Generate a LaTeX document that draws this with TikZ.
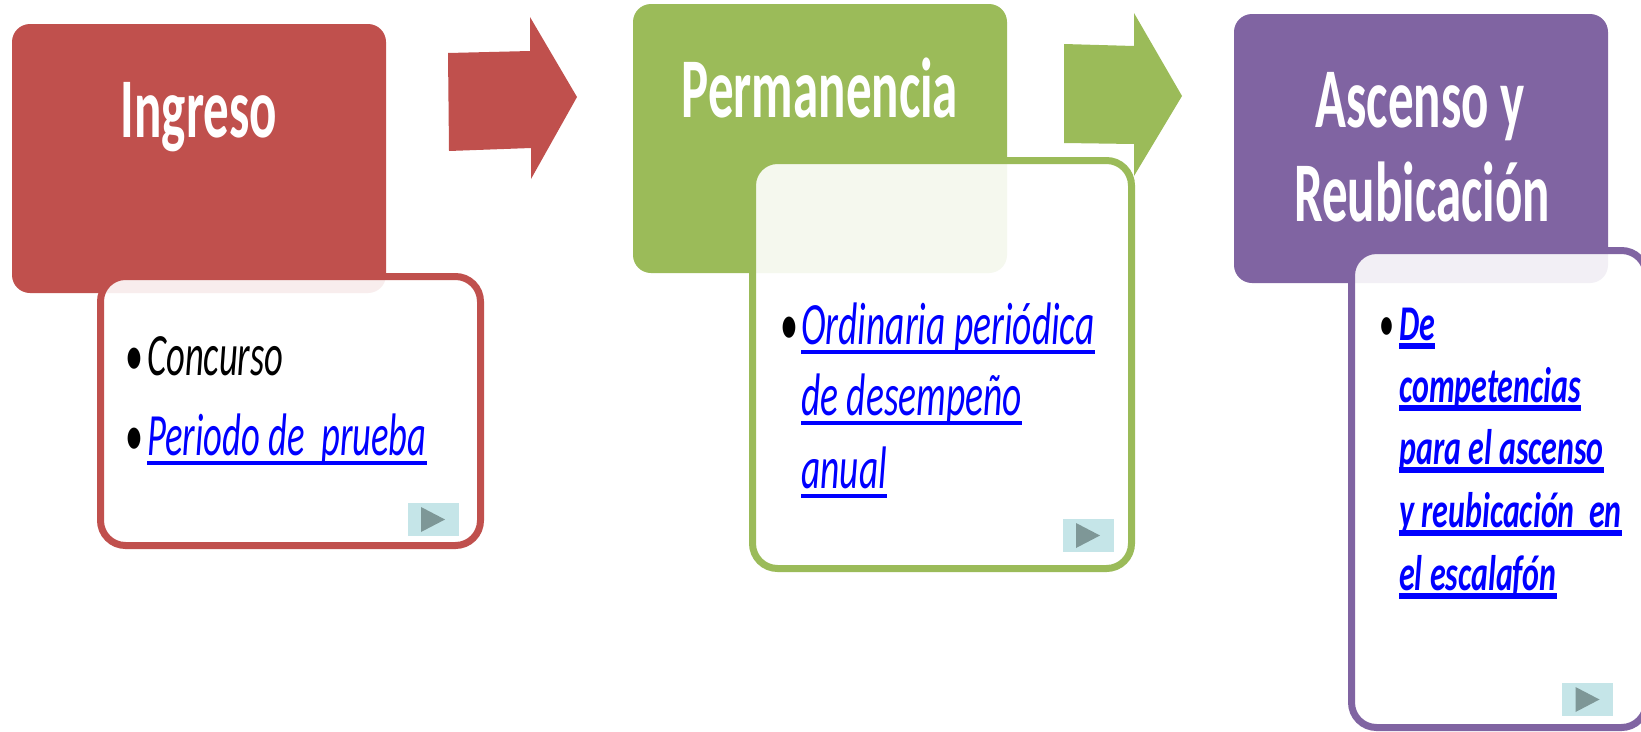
\documentclass[tikz,border=0pt]{standalone}
\usepackage{fontspec}
\newfontfamily\cf{Carlito}[FakeStretch=0.6]
\newfontfamily\cfr{Carlito}[FakeStretch=0.61]
\newfontfamily\cfg{Carlito}[FakeStretch=0.625]
\newfontfamily\cfp{Carlito}[FakeStretch=0.64]
\definecolor{redc}{HTML}{C0504D}
\definecolor{greenc}{HTML}{9BBB59}
\definecolor{purplec}{HTML}{8064A2}
\definecolor{linkblue}{HTML}{0000FF}
\definecolor{playbg}{HTML}{C5E5E8}
\definecolor{playfg}{HTML}{7E9797}
\begin{document}
\begin{tikzpicture}[x=1pt,y=-1pt,
  mainbox/.style={rounded corners=18pt, inner sep=0pt, minimum width=374pt, minimum height=269pt},
  detailbox/.style={draw, line width=7pt, rounded corners=25pt, fill=white, fill opacity=0.9, draw opacity=1, inner sep=0pt},
  title/.style={text=white, font=\cf\bfseries\fontsize{85}{90}\selectfont, inner sep=0pt, anchor=base},
  item/.style={font=\cfr\itshape\fontsize{60}{66}\selectfont, inner sep=0pt, anchor=base west},
  link/.style={item, text=linkblue},
  glink/.style={font=\cfg\itshape\fontsize{60}{66}\selectfont, inner sep=0pt, anchor=base west, text=linkblue},
  plink/.style={font=\cfp\bfseries\itshape\fontsize{50}{55}\selectfont, inner sep=0pt, anchor=base west, text=linkblue},
  bul/.style={font=\cf\fontsize{60}{66}\selectfont, inner sep=0pt, anchor=base west},
  pbul/.style={font=\cf\fontsize{50}{55}\selectfont, inner sep=0pt, anchor=base west},
  playbtn/.style={fill=playbg, inner sep=0pt, minimum width=51pt, minimum height=33pt},
  playtri/.style={fill=playfg},
  uline/.style={line width=4pt, linkblue},
  puline/.style={line width=6pt, linkblue},
]
\useasboundingbox (0,0) rectangle (1641,731);
\clip (0,0) rectangle (1641,731);
\fill[white] (0,0) rectangle (1641,731);

% Red group
\node[mainbox, fill=redc] (ingbox) at (199,158.5) {};
\node[detailbox, draw=redc, minimum width=380pt, minimum height=269pt] (ingdet) at (290.5,411) {};
% Green group
\node[mainbox, fill=greenc] (perbox) at (820,138.5) {};
\node[detailbox, draw=greenc, minimum width=379pt, minimum height=408pt] (perdet) at (942,364.5) {};
% Purple group
\node[mainbox, fill=purplec] (ascbox) at (1421,148.5) {};
\node[detailbox, draw=purplec, minimum width=295pt, minimum height=477pt] (ascdet) at (1499,489) {};

% Block arrows
\fill[redc] (448,53) -- (530,51) -- (530,17) -- (577,97) -- (531,179) -- (531,148) -- (449,151) -- cycle;
\fill[greenc] (1064,44) -- (1134,46) -- (1134,13) -- (1182,96) -- (1134,176) -- (1134,144) -- (1064,143) -- cycle;

% Titles
\node[title] (t1) at (199,137) {Ingreso};
\node[title] (t2) at (820,117) {Permanencia};
\node[title] (t3a) at (1420,127) {Ascenso y};
\node[title] (t3b) at (1422,221) {Reubicación};

% Red items
\node[bul] (b1) at (125,375) {•};
\node[item] (c1) at (147,375) {Concurso};
\node[bul] (b2) at (125,455) {•};
\node[link] (l1) at (147,455) {Periodo de\ \ prueba};
\draw[uline] ([yshift=-7.5pt]l1.base west) -- ([yshift=-7.5pt]l1.base east);

% Green items
\node[bul] (b3) at (780,344) {•};
\node[glink] (g1) at (801,344) {Ordinaria periódica};
\node[glink] (g2) at (801,415) {de desempeño};
\node[glink] (g3) at (801,488) {anual};
\foreach \n in {g1,g2,g3}
  \draw[uline] ([yshift=-7.5pt]\n.base west) -- ([yshift=-7.5pt]\n.base east);

% Purple items
\node[pbul] (b4) at (1379,340) {•};
\node[plink] (p1) at (1399,340) {De};
\node[plink] (p2) at (1399,402) {competencias};
\node[plink] (p3) at (1399,464) {para el ascenso};
\node[plink] (p4) at (1399,527) {y reubicación\ \ en};
\node[plink] (p5) at (1399,590) {el escalafón};
\foreach \n in {p1,p2,p3,p4,p5}
  \draw[puline] ([yshift=-6pt]\n.base west) -- ([yshift=-6pt]\n.base east);

% Play buttons
\node[playbtn] (pb1) at (433,519.5) {};
\fill[playtri] ([xshift=-12pt,yshift=12.5pt]pb1.center) -- ([xshift=12pt]pb1.center) -- ([xshift=-12pt,yshift=-12.5pt]pb1.center) -- cycle;
\node[playbtn] (pb2) at (1088,535.5) {};
\fill[playtri] ([xshift=-12pt,yshift=12.5pt]pb2.center) -- ([xshift=12pt]pb2.center) -- ([xshift=-12pt,yshift=-12.5pt]pb2.center) -- cycle;
\node[playbtn] (pb3) at (1587.5,699.5) {};
\fill[playtri] ([xshift=-12pt,yshift=12.5pt]pb3.center) -- ([xshift=12pt]pb3.center) -- ([xshift=-12pt,yshift=-12.5pt]pb3.center) -- cycle;
\end{tikzpicture}
\end{document}
